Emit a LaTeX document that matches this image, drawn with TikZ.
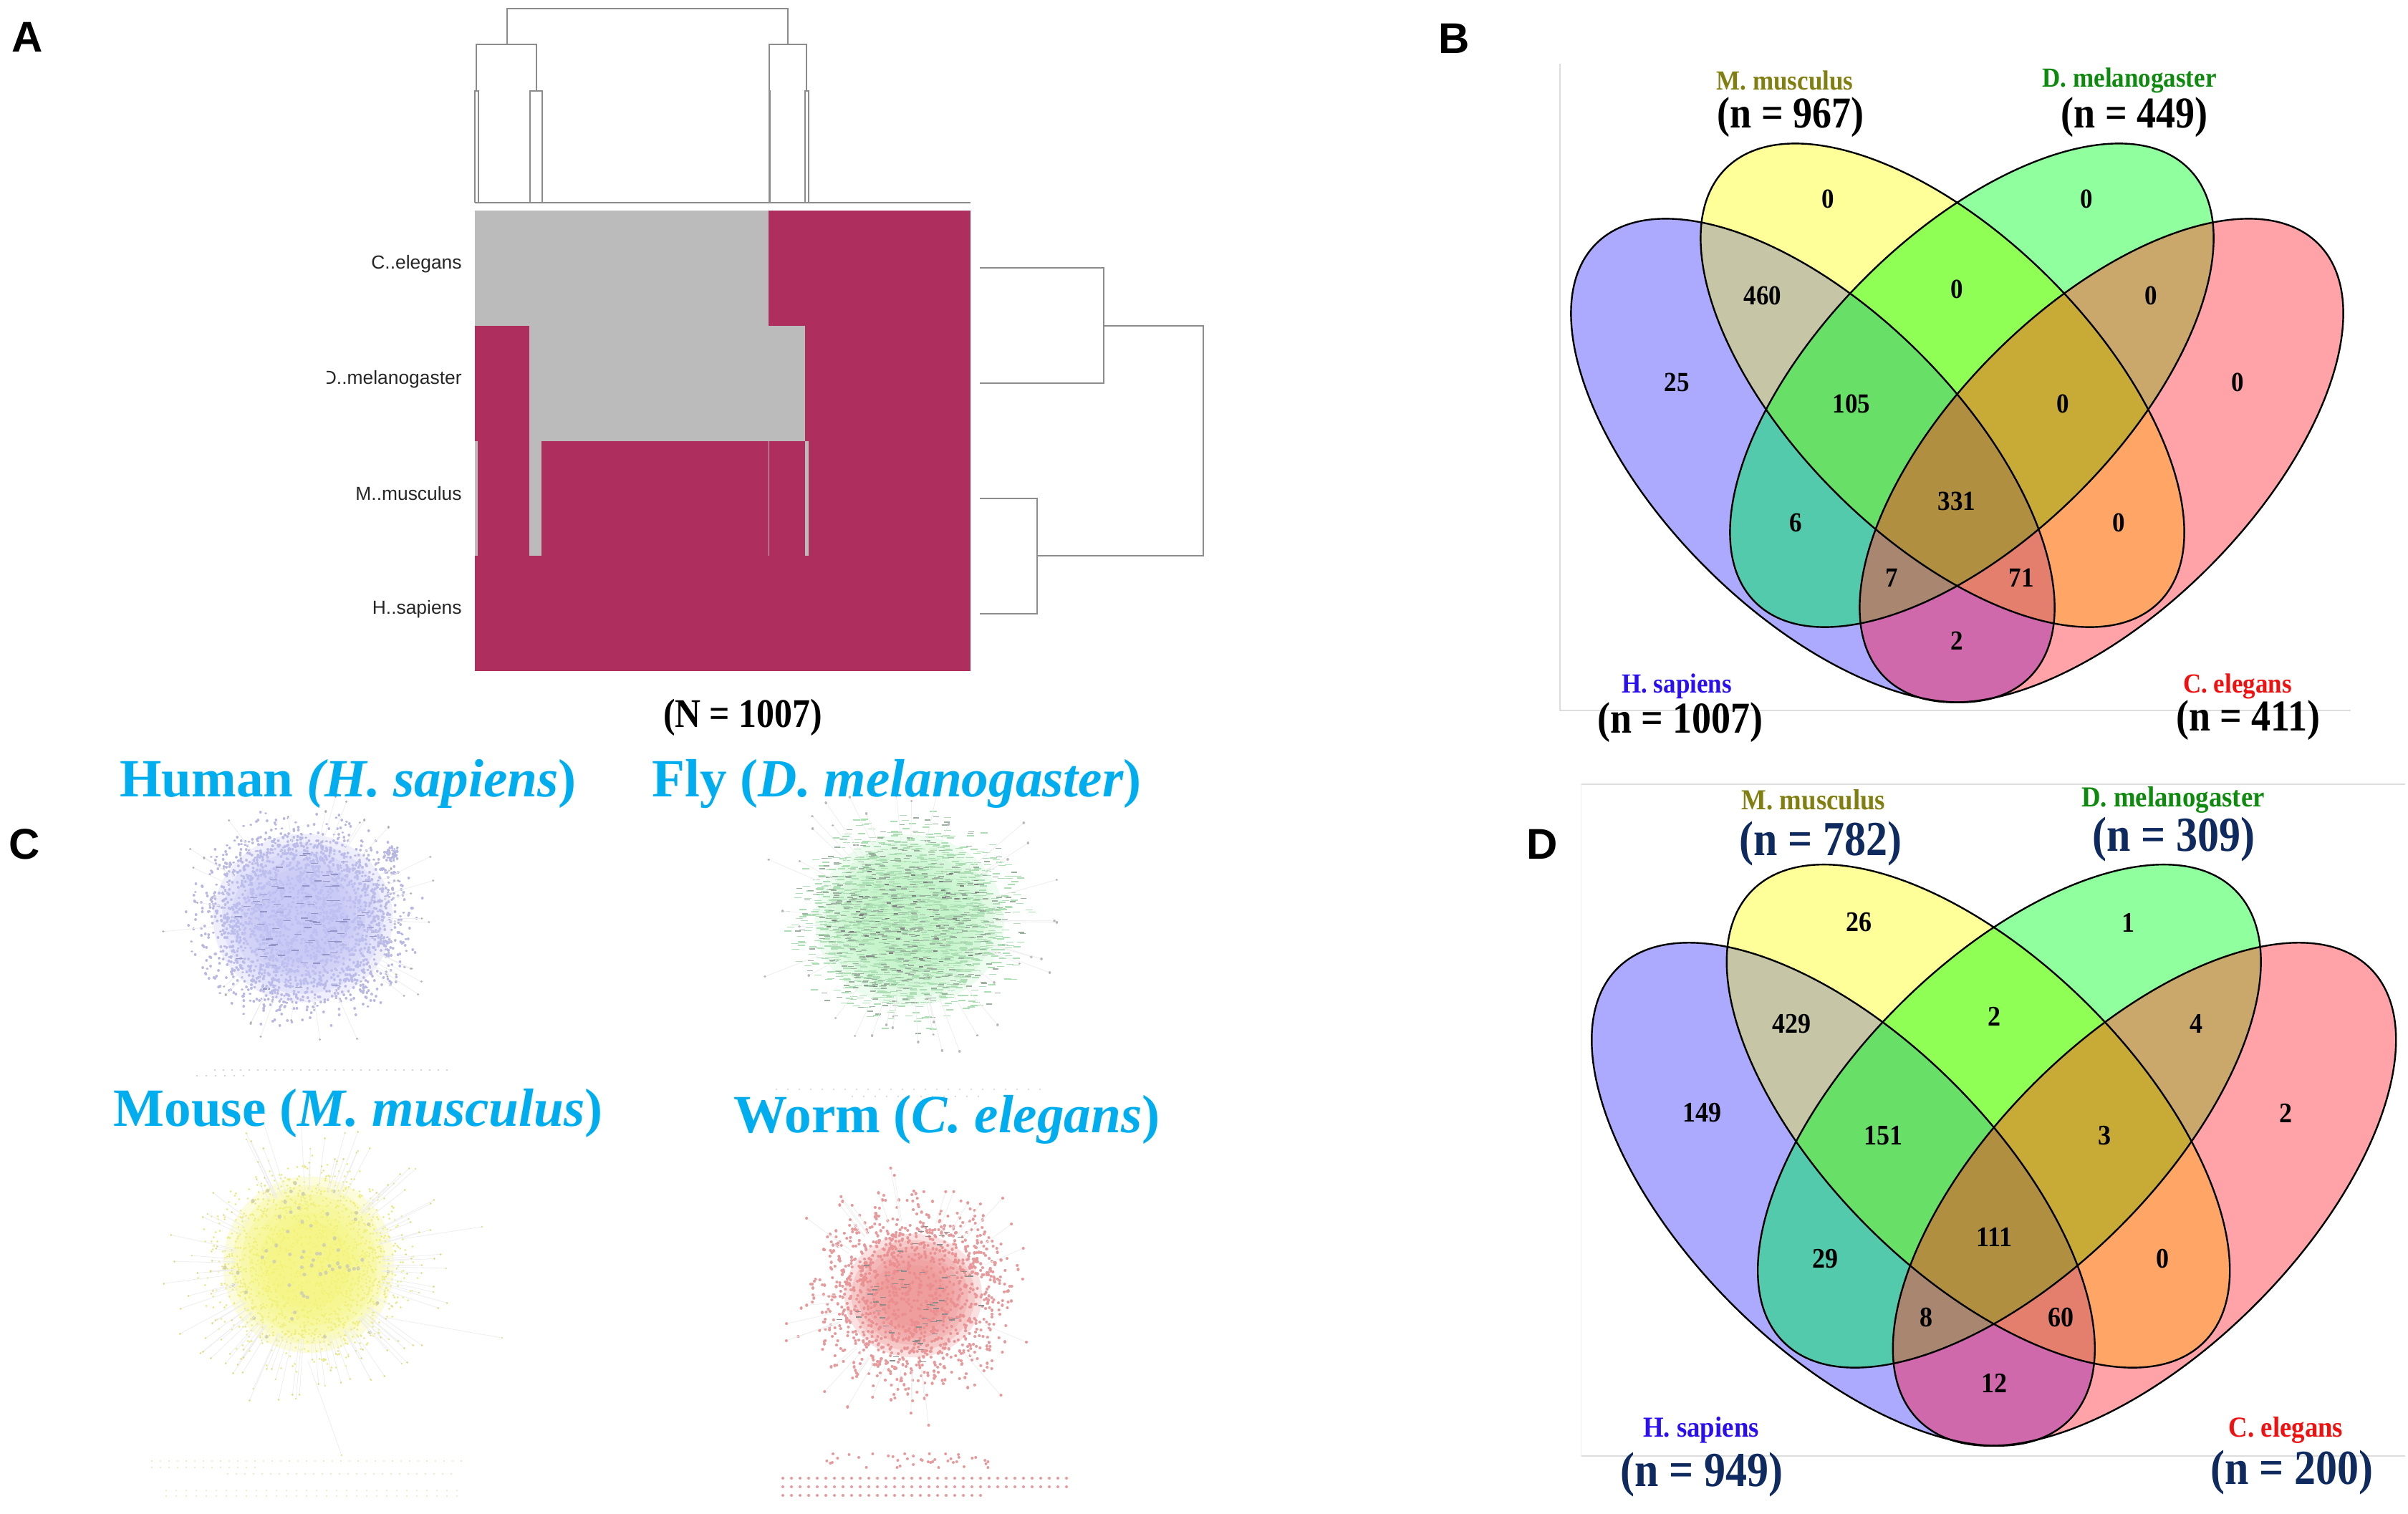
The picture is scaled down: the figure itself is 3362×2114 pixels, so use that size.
\documentclass[tikz,border=0pt]{standalone}
\usepackage{graphicx}
\usepackage{fontspec}
\setmainfont{Liberation Serif}
\newfontfamily\arialf{Liberation Sans}
\definecolor{crim}{HTML}{AE2F5E}
\definecolor{hgrey}{HTML}{BBBBBB}
\definecolor{dline}{HTML}{8C8C8C}
\definecolor{cH}{HTML}{ABAAFF}
\definecolor{cM}{HTML}{FFFF99}
\definecolor{cD}{HTML}{90FF9E}
\definecolor{cC}{HTML}{FFA3A8}
\definecolor{cHM}{HTML}{C6C6A6}
\definecolor{cMD}{HTML}{8FFF55}
\definecolor{cDC}{HTML}{CAA86C}
\definecolor{cHD}{HTML}{53CAAB}
\definecolor{cMC}{HTML}{FFA566}
\definecolor{cHC}{HTML}{D068AC}
\definecolor{cHMD}{HTML}{68DF67}
\definecolor{cMDC}{HTML}{C8AB36}
\definecolor{cHDC}{HTML}{A8866F}
\definecolor{cHMC}{HTML}{E57F6D}
\definecolor{cALL}{HTML}{B18F40}
\definecolor{olivel}{HTML}{807F10}
\definecolor{greenl}{HTML}{0E8A0E}
\definecolor{bluel}{HTML}{2A10F0}
\definecolor{redl}{HTML}{F01010}
\definecolor{navyl}{HTML}{0F2A5F}
\definecolor{cyant}{HTML}{00AEEF}
\definecolor{axisl}{HTML}{DDDDDD}
\definecolor{edgel}{HTML}{EEEEEE}
\definecolor{hucore}{HTML}{C2C2F6}
\definecolor{hudot}{HTML}{B8B8E2}
\definecolor{hudash}{HTML}{9494C6}
\definecolor{flcore}{HTML}{BCF4C3}
\definecolor{fldash}{HTML}{ACE0B4}
\definecolor{flgrey}{HTML}{9BB09F}
\definecolor{mocore}{HTML}{F5F578}
\definecolor{modot}{HTML}{E9E984}
\definecolor{mogrey}{HTML}{D2D2AE}
\definecolor{wocore}{HTML}{EE8E8E}
\definecolor{wodot}{HTML}{E79A9C}
\tikzset{
  hline/.style={draw=dline,line width=.6pt},
  rowlab/.style={font=\arialf\fontsize{13.2}{15}\selectfont,anchor=east,inner sep=0pt,text=black!85},
  plab/.style={font=\arialf\bfseries\fontsize{30}{32}\selectfont,inner sep=0pt},
  ttl/.style={font=\bfseries\fontsize{37.6}{40}\selectfont,anchor=base,inner sep=0pt,text=cyant},
  vnum/.style={inner sep=0pt,font=\bfseries\fontsize{\vnsize}{20}\selectfont},
  vname/.style={inner sep=0pt,font=\bfseries\fontsize{\vssize}{20}\selectfont},
  vcount/.style={inner sep=0pt,font=\bfseries\fontsize{\vcsize}{34}\selectfont},
  vout/.style={draw=black,line width=1.2pt},
  axisline/.style={draw=axisl,line width=.6pt}
}
\newcommand\vtall[1]{\scalebox{1}[1.14]{#1}}
\newcommand\vnt[1]{\scalebox{1}[1.1]{#1}}
% region of several sets, painted on top of the regions with fewer sets
\newcommand\regtwo[3]{\begin{scope}\clip #2;\clip #3;\fill[#1] (0,0) rectangle (3362,2114);\end{scope}}
\newcommand\regthree[4]{\begin{scope}\clip #2;\clip #3;\clip #4;\fill[#1] (0,0) rectangle (3362,2114);\end{scope}}
\newcommand\vennbody{%
  \fill[cH] \eH; \fill[cC] \eC; \fill[cM] \eM; \fill[cD] \eD;
  \regtwo{cHM}{\eH}{\eM}\regtwo{cMD}{\eM}{\eD}\regtwo{cDC}{\eD}{\eC}
  \regtwo{cHD}{\eH}{\eD}\regtwo{cMC}{\eM}{\eC}\regtwo{cHC}{\eH}{\eC}
  \regthree{cHMD}{\eH}{\eM}{\eD}\regthree{cMDC}{\eM}{\eD}{\eC}
  \regthree{cHDC}{\eH}{\eD}{\eC}\regthree{cHMC}{\eH}{\eM}{\eC}
  \begin{scope}\clip \eH;\clip \eM;\clip \eD;\fill[cALL] \eC;\end{scope}
  \draw[vout] \eH; \draw[vout] \eM; \draw[vout] \eD; \draw[vout] \eC;
}
% soft core: stacked translucent ellipses
\newcommand\softcore[5]{%
  \foreach \nf in {.98,.88,.78,.68,.58,.48}{%
    \fill[#5,opacity=.27] (#1,#2) ellipse[x radius=#3*\nf*.5pt,y radius=#4*\nf*.5pt];
  }}
% network clouds: dots are very short round-capped strokes, in batches; radial factor has a fuzzy edge
\newcommand\netcloud[8]{%
  \pgfmathtruncatemacro\nb{ceil(#5/200)}%
  \pgfmathtruncatemacro\nc{#5/\nb}%
  \foreach \nk in {1,...,\nb}{%
    \draw[#6,line width=2*#7pt,line cap=round]
      \foreach \ni [evaluate=\ni as \nr using {(rnd^#8)*(.72+.42*rnd)},evaluate=\ni as \nt using {360*rnd}] in {1,...,\nc}{
        ({#1+#3*\nr*cos(\nt)},{#2+#4*\nr*sin(\nt)}) -- ++(.02,0)
      };
  }}
\newcommand\netdash[7]{%
  \pgfmathtruncatemacro\nb{ceil(#5/200)}%
  \pgfmathtruncatemacro\nc{#5/\nb}%
  \foreach \nk in {1,...,\nb}{%
    \draw[#6,line width=.7pt]
      \foreach \ni [evaluate=\ni as \nr using {(rnd^.55)*(.72+.42*rnd)},evaluate=\ni as \nt using {360*rnd}] in {1,...,\nc}{
        ({#1+#3*\nr*cos(\nt)-#7},{#2+#4*\nr*sin(\nt)}) -- ++(2*#7,0)
      };
  }}
\newcommand\netout[8]{% cx cy rx ry n col R maxfactor
  \foreach \ni in {1,...,#5}{%
    \pgfmathsetmacro\nr{1+(#8-1)*rnd}%
    \pgfmathsetmacro\nt{360*rnd}%
    \draw[edgel,line width=.4pt] ({#1+.8*#3*cos(\nt)},{#2+.8*#4*sin(\nt)}) -- ({#1+#3*\nr*cos(\nt)},{#2+#4*\nr*sin(\nt)});
    \draw[#6,line width=2*#7pt,line cap=round] ({#1+#3*\nr*cos(\nt)},{#2+#4*\nr*sin(\nt)}) -- ++(.02,0);
  }}
\newcommand\dotrow[6]{%
  \draw[#5,line width=2*#6pt,line cap=round] \foreach \nx in {#1,#2,...,#3}{(\nx,#4) -- ++(.02,0)};}
\newcommand\spoke[4]{%
  \draw[edgel,line width=.4pt] #1 -- #2;\draw[#3,line width=2*#4pt,line cap=round] #2 -- ++(.02,0);}
\begin{document}
\begin{tikzpicture}[x=.5pt,y=-.5pt]
\useasboundingbox (0,0) rectangle (3362,2114);
\fill[white] (0,0) rectangle (3362,2114);
\pgfmathsetseed{4242}

%%%% Panel A
\node[plab] (pA) at (38,52) {A};
\draw[hline] (708,62) |- (1100,12) -- (1100,62);
\draw[hline] (665,127) |- (749,62) -- (749,127);
\draw[hline] (1074,127) |- (1126,62) -- (1126,127);
\draw[hline] (663,283) -- (663,127) -- (668,127) -- (668,283);
\draw[hline] (740,283) -- (740,127) -- (757,127) -- (757,283);
\draw[hline] (1074,283) -- (1074,127) -- (1075,127) -- (1075,283);
\draw[hline] (1124,283) -- (1124,127) -- (1129,127) -- (1129,283);
\draw[hline] (663,283) -- (1355,283);
\fill[crim] (663,294) rectangle (1355,937);
\fill[hgrey] (663,294) rectangle (1073,455);
\fill[hgrey] (739,455) rectangle (1123.5,616);
\fill[hgrey] (663,616) rectangle (667,776);
\fill[hgrey] (739,616) rectangle (756,776);
\fill[hgrey] (1073,616) rectangle (1074.2,776);
\fill[hgrey] (1123.5,616) rectangle (1129,776);
\node[rowlab] (rowC) at (645,369) {C..elegans};
\begin{scope}
  \clip (456,490) rectangle (660,570);
  \node[rowlab] (rowD) at (645,530) {D..melanogaster};
\end{scope}
\node[rowlab] (rowM) at (645,689) {M..musculus};
\node[rowlab] (rowH) at (645,851) {H..sapiens};
\draw[hline] (1368,374) -| (1541,535) -- (1368,535);
\draw[hline] (1368,696) -| (1448,857) -- (1368,857);
\draw[hline] (1541,455) -| (1680,776) -- (1448,776);
\node[inner sep=0pt,font=\bfseries\fontsize{24.9}{28}\selectfont] (N) at (1037,1002) {\vtall{(N = 1007)}};

%%%% Panel B
\node[plab] (pB) at (2030,54) {B};
\draw[axisline] (2178,89) -- (2178,992) -- (3282,992);
\def\eH{(2531,643) ellipse[x radius=214pt,y radius=105.7pt,rotate=-45]}
\def\eC{(2934,643) ellipse[x radius=214pt,y radius=105.7pt,rotate=45]}
\def\eM{(2712,538) ellipse[x radius=214pt,y radius=105.7pt,rotate=-45]}
\def\eD{(2753,538) ellipse[x radius=214pt,y radius=105.7pt,rotate=45]}
\vennbody
\def\vnsize{17.5}\def\vssize{17.5}\def\vcsize{27}
\node[vnum] (b1) at (2552,278) {\vnt{0}};
\node[vnum] (b2) at (2913,278) {\vnt{0}};
\node[vnum] (b3) at (2461,413) {\vnt{460}};
\node[vnum] (b4) at (2732,404) {\vnt{0}};
\node[vnum] (b5) at (3003,413) {\vnt{0}};
\node[vnum] (b6) at (2341,534) {\vnt{25}};
\node[vnum] (b7) at (2585,564) {\vnt{105}};
\node[vnum] (b8) at (2880,564) {\vnt{0}};
\node[vnum] (b9) at (3124,534) {\vnt{0}};
\node[vnum] (b10) at (2732,700) {\vnt{331}};
\node[vnum] (b11) at (2507,730) {\vnt{6}};
\node[vnum] (b12) at (2958,730) {\vnt{0}};
\node[vnum] (b13) at (2641,807) {\vnt{7}};
\node[vnum] (b14) at (2822,807) {\vnt{71}};
\node[vnum] (b15) at (2732,895) {\vnt{2}};
\node[vname,text=olivel] (bM) at (2492,112) {\vnt{M. musculus}};
\node[vname,text=greenl] (bD) at (2973,112) {\vnt{D. melanogaster}};
\node[vname,text=bluel] (bH) at (2341,958) {\vnt{H. sapiens}};
\node[vname,text=redl] (bC) at (3124,958) {\vnt{C. elegans}};
\node[vcount] (bnM) at (2500,164) {\vtall{(n = 967)}};
\node[vcount] (bnD) at (2980,164) {\vtall{(n = 449)}};
\node[vcount] (bnH) at (2346,1009) {\vtall{(n = 1007)}};
\node[vcount] (bnC) at (3139,1006) {\vtall{(n = 411)}};

%%%% Panel D
\node[plab] (pD) at (2153,1179) {D};
\draw[axisline] (2208,1095) -- (3358,1095);
\draw[axisline] (2208,2033) -- (3358,2033);
\draw[draw=axisl!50,line width=.4pt] (2207,1095) -- (2207,2033);
\def\eH{(2573.5,1667.5) ellipse[x radius=223pt,y radius=109.2pt,rotate=-45]}
\def\eC{(2994,1667.5) ellipse[x radius=223pt,y radius=109.2pt,rotate=45]}
\def\eM{(2762,1558.4) ellipse[x radius=223pt,y radius=109.2pt,rotate=-45]}
\def\eD{(2805.4,1558.4) ellipse[x radius=223pt,y radius=109.2pt,rotate=45]}
\vennbody
\def\vnsize{18}\def\vssize{18.4}\def\vcsize{30}
\node[vnum] (d1) at (2595,1288) {\vnt{26}};
\node[vnum] (d2) at (2971.5,1288) {\vnt{1}};
\node[vnum] (d3) at (2501,1429.5) {\vnt{429}};
\node[vnum] (d4) at (2784,1419.5) {\vnt{2}};
\node[vnum] (d5) at (3066,1429.5) {\vnt{4}};
\node[vnum] (d6) at (2376,1554) {\vnt{149}};
\node[vnum] (d7) at (2629,1586) {\vnt{151}};
\node[vnum] (d8) at (2938,1586) {\vnt{3}};
\node[vnum] (d9) at (3191.5,1554) {\vnt{2}};
\node[vnum] (d10) at (2784,1727) {\vnt{111}};
\node[vnum] (d11) at (2548,1758) {\vnt{29}};
\node[vnum] (d12) at (3019,1758) {\vnt{0}};
\node[vnum] (d13) at (2689,1840) {\vnt{8}};
\node[vnum] (d14) at (2877,1840) {\vnt{60}};
\node[vnum] (d15) at (2784,1931) {\vnt{12}};
\node[vname,text=olivel] (dM) at (2532,1117) {\vnt{M. musculus}};
\node[vname,text=greenl] (dD) at (3034,1117) {\vnt{D. melanogaster}};
\node[vname,text=bluel] (dH) at (2375,1996.5) {\vnt{H. sapiens}};
\node[vname,text=redl] (dC) at (3191.5,1996.5) {\vnt{C. elegans}};
\node[vcount,text=navyl] (dnM) at (2542,1178) {\vtall{(n = 782)}};
\node[vcount,text=navyl] (dnD) at (3035,1172) {\vtall{(n = 309)}};
\node[vcount,text=navyl] (dnH) at (2376,2059) {\vtall{(n = 949)}};
\node[vcount,text=navyl] (dnC) at (3200,2056) {\vtall{(n = 200)}};

%%%% Panel C
\node[plab] (pC) at (34,1179) {C};
% Human
\netcloud{423}{1282}{150}{140}{2300}{hudot}{.95}{.5}
\softcore{423}{1282}{128}{120}{hucore}
\netdash{423}{1282}{105}{100}{80}{hudash}{5}
\netcloud{548}{1192}{10}{11}{45}{hudot}{.9}{.5}
\netout{423}{1282}{143}{134}{35}{gray!60}{.8}{1.4}
\dotrow{300}{312}{625}{1494}{gray!45}{.7}
\dotrow{275}{288}{342}{1502}{gray!45}{.7}
% Fly
\softcore{1270}{1285}{135}{122}{flcore}
\netdash{1270}{1285}{155}{140}{1500}{fldash}{5}
\netdash{1270}{1285}{155}{140}{500}{flgrey}{4}
\netdash{1270}{1285}{105}{95}{90}{black!50}{3}
\netout{1270}{1285}{150}{135}{40}{gray!55}{.9}{1.5}
\dotrow{1084}{1100}{1455}{1521}{gray!40}{.6}
\dotrow{1190}{1206}{1380}{1531}{gray!40}{.6}
% Mouse
\netcloud{431}{1766}{138}{140}{1500}{modot}{.75}{.5}
\softcore{431}{1766}{122}{126}{mocore}
\netcloud{431}{1766}{125}{125}{60}{mogrey}{1.3}{.6}
\netout{431}{1766}{128}{130}{120}{yellow!60!gray!70}{.7}{1.6}
\spoke{(560,1730)}{(673,1713)}{yellow!60!gray!70}{.7}
\spoke{(540,1840)}{(701,1868)}{yellow!60!gray!70}{.7}
\spoke{(430,1900)}{(477,2032)}{yellow!60!gray!70}{.7}
\dotrow{212}{224}{645}{2040}{yellow!50!gray!40}{.6}
\dotrow{212}{224}{356}{2049}{yellow!50!gray!40}{.6}
\dotrow{318}{330}{632}{2058}{yellow!50!gray!40}{.6}
\dotrow{232}{246}{645}{2081}{yellow!50!gray!40}{.6}
\dotrow{232}{246}{645}{2089}{yellow!50!gray!40}{.6}
% Worm
\netcloud{1275}{1809}{140}{135}{1200}{wodot}{1.05}{.5}
\softcore{1275}{1809}{98}{88}{wocore}
\netout{1275}{1809}{136}{131}{40}{wodot}{1.05}{1.4}
\netdash{1275}{1809}{105}{95}{60}{black!45}{4}
\dotrow{1093}{1105}{1490}{2064}{wodot}{1}
\dotrow{1093}{1105}{1490}{2076}{wodot}{1}
\dotrow{1093}{1105}{1371}{2088}{wodot}{1}
\netcloud{1270}{2040}{170}{12}{40}{wodot}{1}{.5}
% Titles
\node[ttl] (tH) at (486,1112) {Human {\itshape(H. sapiens})};
\node[ttl] (tF) at (1252,1112) {Fly ({\itshape D. melanogaster})};
\node[ttl] (tM) at (500,1572) {Mouse ({\itshape M. musculus})};
\node[ttl] (tW) at (1322,1581) {Worm ({\itshape C. elegans})};
\end{tikzpicture}
\end{document}
